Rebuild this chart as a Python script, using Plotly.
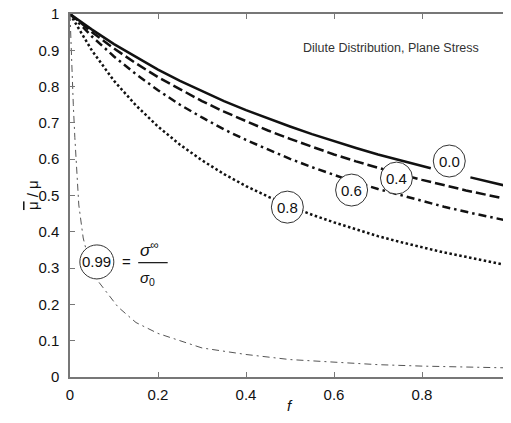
import plotly.graph_objs as go

# volume fraction f
f = [0, 0.05, 0.1, 0.15, 0.2, 0.25, 0.3, 0.35, 0.4, 0.45, 0.5,
     0.55, 0.6, 0.65, 0.7, 0.75, 0.8, 0.85, 0.9, 0.95, 1.0]

# sigma_inf / sigma_0 = 0.0 (solid, with a gap where the label sits)
f_00 = [0, 0.05, 0.1, 0.15, 0.2, 0.25, 0.3, 0.35, 0.4, 0.45, 0.5,
        0.55, 0.6, 0.65, 0.7, 0.75, 0.8, 0.82, None, 0.91, 0.95, 1.0]
mu_00 = [1, 0.957, 0.917, 0.881, 0.847, 0.816, 0.787, 0.760, 0.735, 0.712, 0.690,
         0.669, 0.649, 0.631, 0.613, 0.597, 0.581, 0.575, None, 0.550, 0.539, 0.524]

mu_04 = [1, 0.950, 0.905, 0.864, 0.826, 0.792, 0.760, 0.731, 0.704, 0.679, 0.656,
         0.634, 0.613, 0.594, 0.576, 0.559, 0.543, 0.528, 0.514, 0.501, 0.488]

mu_06 = [1, 0.938, 0.883, 0.834, 0.790, 0.750, 0.715, 0.682, 0.653, 0.626, 0.601,
         0.578, 0.556, 0.536, 0.518, 0.501, 0.484, 0.469, 0.455, 0.442, 0.429]

mu_08 = [1, 0.899, 0.816, 0.748, 0.690, 0.640, 0.597, 0.559, 0.526, 0.497, 0.471,
         0.447, 0.426, 0.406, 0.388, 0.372, 0.357, 0.343, 0.331, 0.319, 0.306]

f_099 = [0, 0.004, 0.0075, 0.011, 0.015, 0.02, 0.03, 0.045, 0.06, 0.083, 0.109,
         0.15, 0.2, 0.3, 0.4, 0.5, 0.6, 0.7, 0.8, 0.9, 1.0]
mu_099 = [1, 0.84, 0.75, 0.66, 0.566, 0.474, 0.383, 0.31, 0.27, 0.235, 0.193,
          0.15, 0.12, 0.08, 0.062, 0.048, 0.040, 0.034, 0.030, 0.027, 0.025]

# curve labels: text, f, value
labels = ['0.0', '0.4', '0.6', '0.8', '0.99']
label_f = [0.862, 0.742, 0.640, 0.494, 0.061]
label_v = [0.595, 0.548, 0.515, 0.468, 0.317]

FONT = 'Liberation Sans, Arial, sans-serif'
INK = '#111111'

fig = go.Figure()
fig.add_trace(go.Scatter(x=f_00, y=mu_00, mode='lines', connectgaps=False,
                         line=dict(color=INK, width=2.5)))
fig.add_trace(go.Scatter(x=f, y=mu_04, mode='lines',
                         line=dict(color=INK, width=2.5, dash='10px,4px')))
fig.add_trace(go.Scatter(x=f, y=mu_06, mode='lines',
                         line=dict(color=INK, width=2.5, dash='8px,4px,2.5px,4px')))
fig.add_trace(go.Scatter(x=f, y=mu_08, mode='lines',
                         line=dict(color=INK, width=2.5, dash='2.5px,2.5px')))
fig.add_trace(go.Scatter(x=f_099, y=mu_099, mode='lines',
                         line=dict(color='#555555', width=1, dash='7px,4px,2px,4px')))

# circled labels
for txt, lx, ly in zip(labels, label_f, label_v):
    r = 17 if txt == '0.99' else 16
    fig.add_shape(type='circle', xref='x', yref='y', xsizemode='pixel', ysizemode='pixel',
                  xanchor=lx, yanchor=ly, x0=-r, x1=r, y0=-r, y1=r,
                  line=dict(color='#333333', width=1), fillcolor='white', layer='above')
    fig.add_annotation(x=lx, y=ly, text=txt, showarrow=False,
                       font=dict(family=FONT, size=15, color=INK))

# "= sigma_inf / sigma_0"
fig.add_annotation(x=0.129, y=0.317, text='=', showarrow=False,
                   font=dict(family=FONT, size=15, color=INK))
fig.add_annotation(x=0.18, y=0.352, text='<i>σ</i><sup>∞</sup>', showarrow=False,
                   font=dict(family=FONT, size=17, color=INK))
fig.add_annotation(x=0.177, y=0.272, text='<i>σ</i><sub>0</sub>', showarrow=False,
                   font=dict(family=FONT, size=15, color=INK))
fig.add_shape(type='line', xref='x', yref='y', x0=0.155, x1=0.222, y0=0.315, y1=0.315,
              line=dict(color=INK, width=1.2))

fig.add_annotation(x=0.73, y=0.906, text='Dilute Distribution, Plane Stress', showarrow=False,
                   font=dict(family=FONT, size=12.5, color='#333333'))

# axis titles
fig.add_annotation(xref='paper', yref='paper', x=-0.109, y=0.5, textangle=-90,
                   text='<span style="text-decoration:overline">μ</span> / μ', showarrow=False,
                   font=dict(family=FONT, size=15, color=INK))
fig.add_annotation(xref='paper', yref='paper', x=0.5, y=-0.108, text='<i>f</i>', showarrow=False,
                   font=dict(family=FONT, size=15, color=INK))

axis_style = dict(range=[0, 1], showgrid=False, zeroline=False, showline=True,
                  linecolor='#777777', linewidth=1.5, mirror='ticks', ticks='inside',
                  ticklen=5, tickcolor='#777777', dtick=0.1, automargin=False,
                  ticklabeloverflow='allow',
                  tickfont=dict(family=FONT, size=15, color=INK))

# the page body adds an 8px offset, so the figure is 8px smaller than the window
fig.update_layout(
    width=503, height=415,
    margin=dict(l=62, r=1, t=6, b=46),
    plot_bgcolor='white', paper_bgcolor='white',
    showlegend=False,
    xaxis=dict(axis_style, dtick=0.2, ticklabelstandoff=3),
    yaxis=dict(axis_style, ticklabelstandoff=6),
)

fig.write_html("out.html")
